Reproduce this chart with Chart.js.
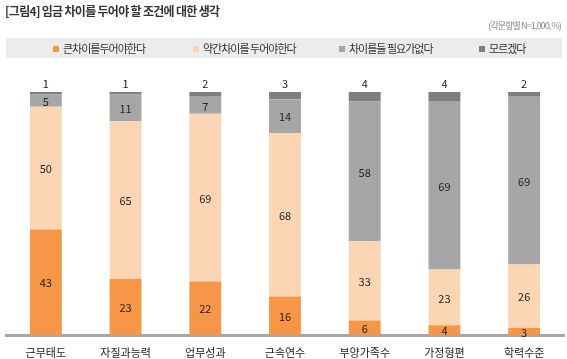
<!DOCTYPE html>
<html><head><meta charset="utf-8">
<script src="https://cdn.jsdelivr.net/npm/chart.js@4"></script>
<style>
html,body{margin:0;padding:0;background:#fff;}
#wrap{position:relative;width:567px;height:359px;font-family:"Noto Sans CJK KR","Noto Sans",sans-serif;}
#title{position:absolute;left:5px;top:2px;font-size:12px;font-weight:bold;color:#333;letter-spacing:-0.7px;}
#sub{position:absolute;right:6px;top:19px;font-size:9px;color:#888;letter-spacing:-0.9px;}
#legend{position:absolute;left:6px;top:38px;width:556px;height:20px;background:#ececec;}
.li{position:absolute;top:3px;font-size:11px;color:#333;letter-spacing:-1px;line-height:14px;white-space:nowrap;}
.sq{display:inline-block;width:6px;height:6px;margin-right:4px;vertical-align:1px;}
canvas{position:absolute;left:0;top:0;}
</style></head>
<body><div id="wrap">
<canvas id="c" width="567" height="359"></canvas>
<div id="title">[그림4] 임금 차이를 두어야 할 조건에 대한 생각</div>
<div id="sub">(각문항별 N=1,000, %)</div>
<div id="legend"></div>
</div>
<script>
const categories = ["근무태도","자질과능력","업무성과","근속연수","부양가족수","가정형편","학력수준"];
const seriesNames = ["큰차이를두어야한다","약간차이를 두어야한다","차이를둘 필요가없다","모르겠다"];
const bigGap   = [43,23,22,16,6,4,3];
const smallGap = [50,65,69,68,33,23,26];
const noNeed   = [5,11,7,14,58,69,69];
const dontKnow = [1,1,2,3,4,4,2];
const colors = ["#f79646","#fcd5b4","#a6a6a6","#7f7f7f"];
const legendX = [47,187,333,473];

const raw = [bigGap, smallGap, noNeed, dontKnow];
const totals = categories.map((_, i) => raw.reduce((s, a) => s + a[i], 0));
const pct = raw.map(a => a.map((v, i) => v / totals[i] * 100));

const leg = document.getElementById('legend');
seriesNames.forEach((n, i) => {
  const d = document.createElement('div');
  d.className = 'li';
  d.style.left = legendX[i] + 'px';
  d.innerHTML = '<span class="sq" style="background:' + colors[i] + '"></span>' + n;
  leg.appendChild(d);
});

const labelPlugin = {
  id: 'vlabels',
  afterDatasetsDraw(chart) {
    const ctx = chart.ctx;
    ctx.save();
    ctx.font = '11px "Noto Sans CJK KR", "Noto Sans", sans-serif';
    ctx.fillStyle = '#222';
    ctx.textAlign = 'center';
    ctx.textBaseline = 'middle';
    chart.data.datasets.forEach((ds, di) => {
      const meta = chart.getDatasetMeta(di);
      meta.data.forEach((el, i) => {
        const v = raw[di][i];
        if (di === 3) {
          ctx.fillText(String(v), el.x, el.y - 8);
        } else {
          ctx.fillText(String(v), el.x, (el.y + el.base) / 2 + 1);
        }
      });
    });
    ctx.restore();
  }
};

new Chart(document.getElementById('c'), {
  type: 'bar',
  data: {
    labels: categories,
    datasets: pct.map((d, i) => ({
      label: seriesNames[i],
      data: d,
      backgroundColor: colors[i],
      borderWidth: 0,
      categoryPercentage: 1,
      barPercentage: 0.4
    }))
  },
  options: {
    responsive: false,
    animation: false,
    layout: { padding: { top: 92, left: 6, right: 3, bottom: 0 } },
    plugins: { legend: { display: false }, tooltip: { enabled: false } },
    scales: {
      x: {
        stacked: true,
        grid: { display: false },
        border: { display: true, color: '#a6a6a6', width: 3 },
        ticks: { color: '#222', font: { size: 11, family: '"Noto Sans CJK KR", "Noto Sans", sans-serif' }, padding: 3 },
        afterFit(s) { s.height = 24; }
      },
      y: {
        stacked: true,
        display: false,
        min: 0,
        max: 100
      }
    }
  },
  plugins: [labelPlugin]
});
</script>
</body></html>
